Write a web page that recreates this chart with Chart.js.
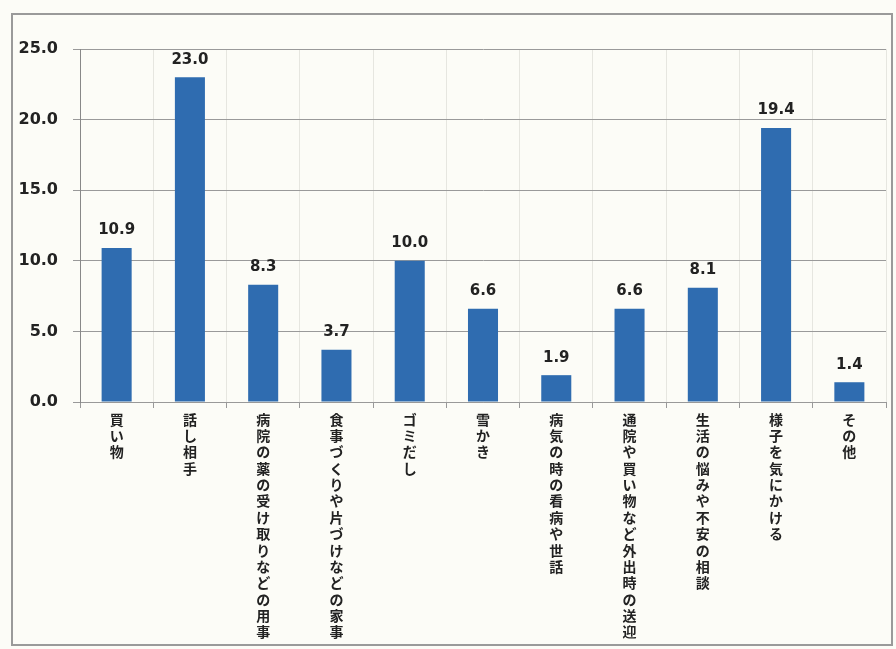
<!DOCTYPE html>
<html>
<head>
<meta charset="utf-8">
<script src="https://cdn.jsdelivr.net/npm/chart.js@4"></script>
<style>
  html, body { margin: 0; padding: 0; background: #fcfcf7; }
  #wrap { position: relative; width: 896px; height: 649px; }
</style>
</head>
<body>
<div id="wrap"><canvas id="chart" width="896" height="649"></canvas></div>
<script>
const CATEGORIES = [
  "買い物",
  "話し相手",
  "病院の薬の受け取りなどの用事",
  "食事づくりや片づけなどの家事",
  "ゴミだし",
  "雪かき",
  "病気の時の看病や世話",
  "通院や買い物など外出時の送迎",
  "生活の悩みや不安の相談",
  "様子を気にかける",
  "その他"
];
const VALUES = [10.9, 23.0, 8.3, 3.7, 10.0, 6.6, 1.9, 6.6, 8.1, 19.4, 1.4];
const Y_MIN = 0;
const Y_MAX = 25;
const Y_STEP = 5;

const NUM_FONT = "'DejaVu Sans', 'Noto Sans CJK JP', sans-serif";
const JP_FONT = "'Noto Sans CJK JP', sans-serif";

// stack each character on its own line to mimic vertical writing
const stackedLabels = CATEGORIES.map(s => Array.from(s));

const frameAndValues = {
  id: "frameAndValues",
  beforeDraw(c) {
    const ctx = c.ctx;
    ctx.save();
    ctx.fillStyle = "#fcfcf7";
    ctx.fillRect(0, 0, c.width, c.height);
    ctx.strokeStyle = "#9a9a9a";
    ctx.lineWidth = 2;
    ctx.strokeRect(12, 14, 880, 631);
    ctx.restore();
  },
  afterDatasetsDraw(c) {
    const ctx = c.ctx;
    const meta = c.getDatasetMeta(0);
    ctx.save();
    ctx.font = "bold 15px " + NUM_FONT;
    ctx.fillStyle = "#222";
    ctx.textAlign = "center";
    ctx.textBaseline = "bottom";
    meta.data.forEach((bar, i) => {
      ctx.fillText(VALUES[i].toFixed(1), bar.x, bar.y - 10);
    });
    ctx.restore();
  }
};

new Chart(document.getElementById("chart"), {
  type: "bar",
  data: {
    labels: stackedLabels,
    datasets: [{
      data: VALUES,
      backgroundColor: "#2f6cb0",
      borderWidth: 0,
      barPercentage: 0.41,
      categoryPercentage: 1.0
    }]
  },
  options: {
    responsive: false,
    animation: false,
    layout: { padding: { left: 14, right: 10, top: 49, bottom: 0 } },
    plugins: { legend: { display: false }, tooltip: { enabled: false } },
    scales: {
      x: {
        offset: true,
        grid: { offset: true, color: "#e6e6e0", lineWidth: 1, tickLength: 6, tickColor: "#999" },
        border: { color: "#999", width: 1 },
        ticks: {
          color: "#222",
          maxRotation: 0,
          minRotation: 0,
          autoSkip: false,
          padding: 3,
          font: { family: JP_FONT, size: 14, weight: "bold", lineHeight: 1.17 }
        },
        afterFit(scale) { scale.height = 247; }
      },
      y: {
        min: Y_MIN,
        max: Y_MAX,
        grid: { color: "#9a9a9a", lineWidth: 1, tickLength: 7, tickColor: "#999" },
        border: { color: "#888", width: 1 },
        ticks: {
          stepSize: Y_STEP,
          color: "#222",
          padding: 15,
          font: { family: NUM_FONT, size: 16, weight: "bold" },
          callback: v => Number(v).toFixed(1)
        },
        afterFit(scale) { scale.width = 66; }
      }
    }
  },
  plugins: [frameAndValues]
});
</script>
</body>
</html>
